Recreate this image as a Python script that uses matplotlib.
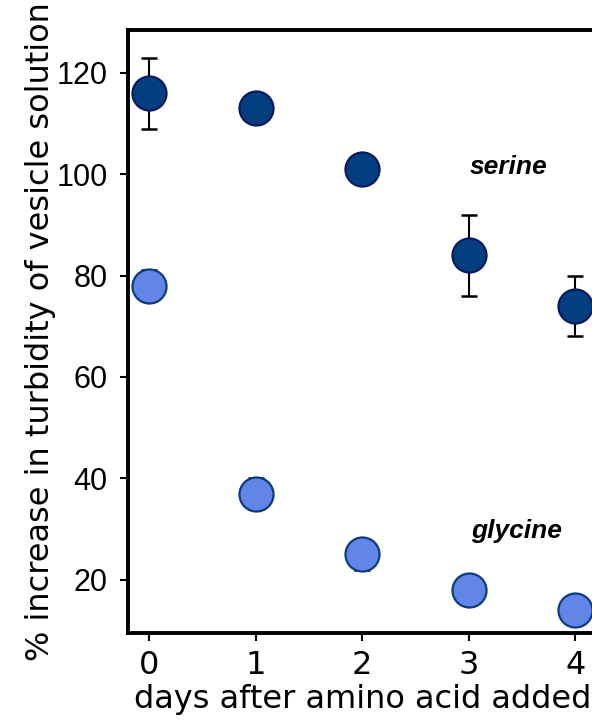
import matplotlib.pyplot as plt

days = [0, 1, 2, 3, 4]
serine = [116, 113, 101, 84, 74]
serine_err = [7, 2, 2, 8, 6]
glycine = [78, 37, 25, 18, 14]
glycine_err = [3, 3, 3, 1, 1]
yticks = [20, 40, 60, 80, 100, 120]

fig = plt.figure(figsize=(5.92, 7.25), dpi=100)
ax = fig.add_axes([0.216, 0.127, 0.792, 0.832])

ax.errorbar(days, serine, yerr=serine_err, fmt='none', ecolor='black',
            elinewidth=1.5, capsize=5.5, capthick=1.8, zorder=2)
ax.errorbar(days, glycine, yerr=glycine_err, fmt='none', ecolor='black',
            elinewidth=1.5, capsize=5.5, capthick=1.8, zorder=2)
ax.plot(days, serine, 'o', ms=24.5, mfc='#033f7e', mec='#0a1a60', mew=1.6,
        ls='none', zorder=3, clip_on=False)
ax.plot(days, glycine, 'o', ms=24.5, mfc='#6186e7', mec='#0c3c80', mew=1.6,
        ls='none', zorder=3, clip_on=False)

ax.text(3.37, 101.5, 'serine', family='Liberation Sans', weight='bold',
        style='italic', fontsize=19, ha='center', va='center')
ax.text(3.45, 29.7, 'glycine', family='Liberation Sans', weight='bold',
        style='italic', fontsize=19, ha='center', va='center')

ax.set_xlim(-0.2, 4.2)
ax.set_ylim(9.5, 128.5)
ax.set_xticks(days)
ax.set_yticks(yticks)
ax.set_xticklabels([str(d) for d in days], family='DejaVu Sans', fontsize=23)
ax.set_yticklabels([str(v) for v in yticks], family='Liberation Sans', fontsize=22)
ax.tick_params(axis='x', width=1.5, length=5.5, pad=7)
ax.tick_params(axis='y', width=1.5, length=5.5, pad=9)
for s in ax.spines.values():
    s.set_linewidth(2.8)

ax.set_xlabel('days after amino acid added', family='DejaVu Sans', fontsize=23, labelpad=2)
ax.set_ylabel('% increase in turbidity of vesicle solution', family='DejaVu Sans',
              fontsize=23, labelpad=0)

fig.savefig('out.png', dpi=100)
